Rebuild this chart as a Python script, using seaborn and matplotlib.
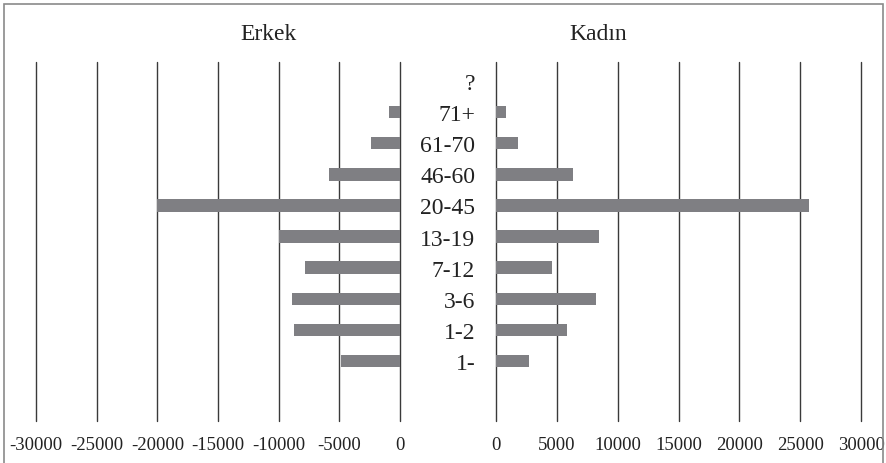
import numpy as np
import pandas as pd
import seaborn as sns
import matplotlib.pyplot as plt
from matplotlib.patches import Rectangle

# Data
categories = ["?", "71+", "61-70", "46-60", "20-45", "13-19", "7-12", "3-6", "1-2", "1-"]
erkek = [0, 900, 2400, 5850, 20000, 10000, 7800, 8900, 8700, 4900]
kadin = [0, 800, 1800, 6300, 25700, 8500, 4600, 8200, 5850, 2750]
ticks_left = [-30000, -25000, -20000, -15000, -10000, -5000, 0]
ticks_right = [0, 5000, 10000, 15000, 20000, 25000, 30000]

sns.set_style("white")
plt.rcParams['font.family'] = ['Liberation Serif', 'DejaVu Serif']
plt.rcParams['axes.unicode_minus'] = False

bar_color = "#7f7f83"
grid_color = "#3a3a3a"

df = pd.DataFrame({"grup": categories, "erkek": -np.array(erkek), "kadin": kadin})

fig = plt.figure(figsize=(8.87, 4.64), dpi=100)
ax1 = fig.add_axes([0.0406, 0.0905, 0.4104, 0.7737])
ax2 = fig.add_axes([0.5592, 0.0905, 0.4115, 0.7737])

sns.barplot(data=df, x="erkek", y="grup", orient="h", color=bar_color,
            saturation=1, width=0.4, linewidth=0, ax=ax1)
sns.barplot(data=df, x="kadin", y="grup", orient="h", color=bar_color,
            saturation=1, width=0.4, linewidth=0, ax=ax2)

for ax, ticks in [(ax1, ticks_left), (ax2, ticks_right)]:
    ax.set_xlim(ticks[0], ticks[-1])
    ax.set_ylim(len(categories) - 1 + 1.93, -0.61)
    ax.set_xticks(ticks)
    ax.set_xticklabels([str(t) for t in ticks])
    # vertical gridlines, also at both ends
    for t in ticks:
        ax.axvline(t, color=grid_color, lw=1.0, zorder=0, clip_on=False)
    for s in ax.spines.values():
        s.set_visible(False)
    ax.tick_params(axis='x', length=0, pad=11, labelsize=13.5, colors='#222222')
    ax.set_xlabel("")
    ax.set_ylabel("")

ax1.set_yticks([])
ax2.tick_params(axis='y', length=0, pad=15, labelsize=17, colors='#222222')
for lab in ax2.get_yticklabels():
    lab.set_horizontalalignment('right')

fig.text(268 / 887, 1 - 35 / 464, "Erkek", ha='center', va='center', fontsize=17, color='#222222')
fig.text(598 / 887, 1 - 35 / 464, "Kadın", ha='center', va='center', fontsize=17, color='#222222')

# chart border
fig.patches.append(Rectangle((0.005, -0.05), 0.991, 1.04, transform=fig.transFigure,
                             fill=False, edgecolor='#8a8a8a', lw=1.2))

fig.savefig("out.png", dpi=100)
